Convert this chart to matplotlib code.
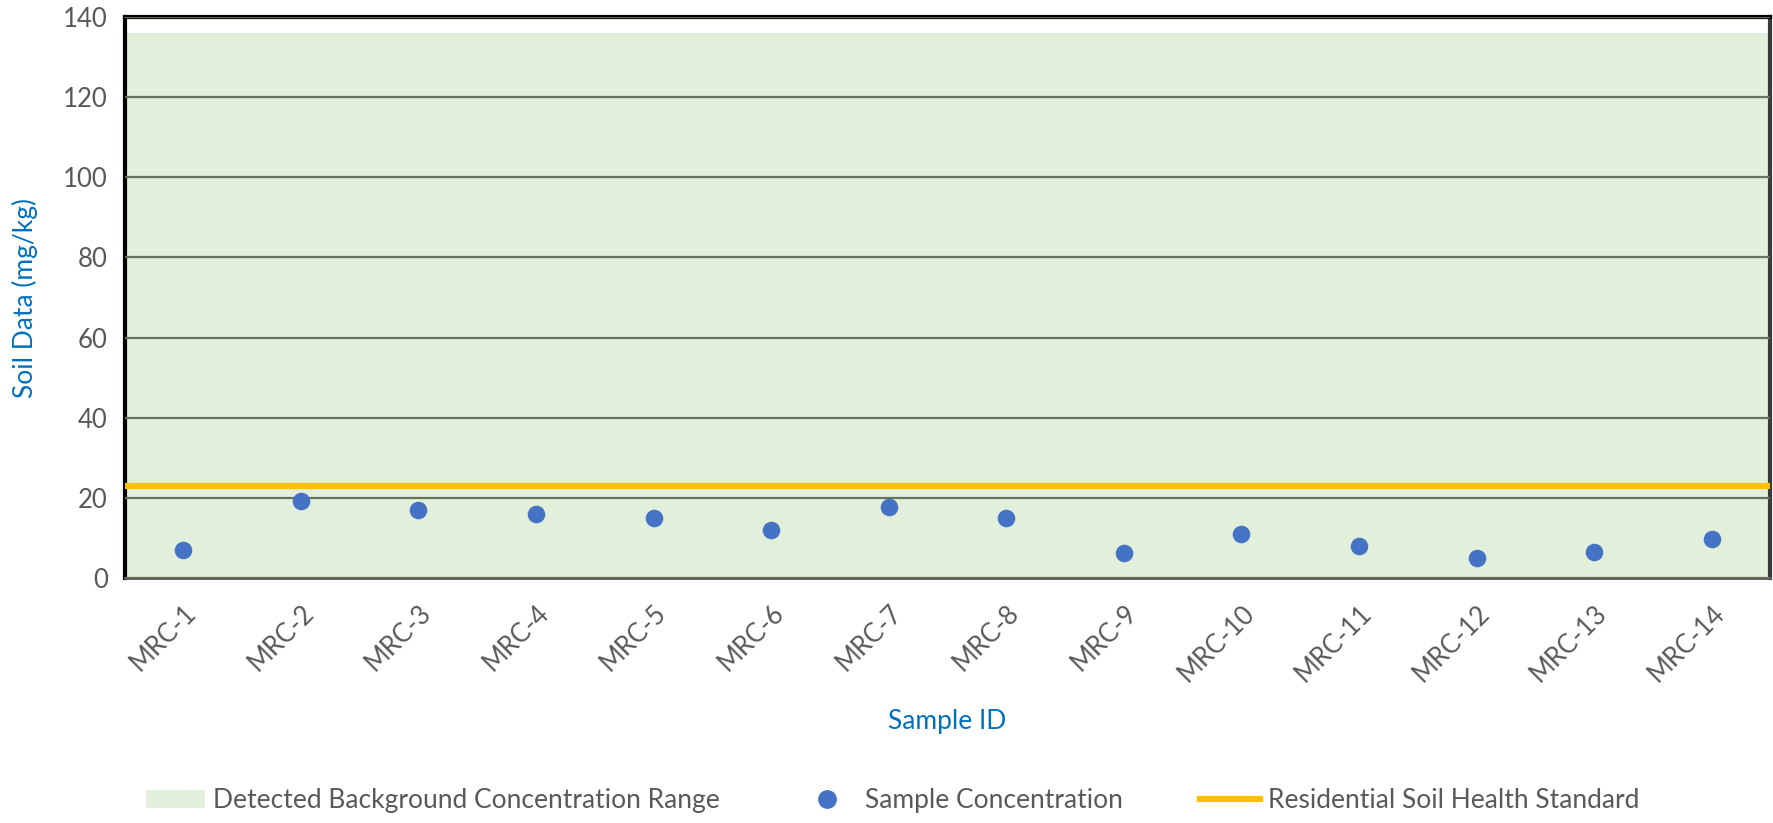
import matplotlib
matplotlib.use("Agg")
import matplotlib.pyplot as plt
from matplotlib.patches import Patch
from matplotlib.lines import Line2D

samples = ["MRC-1", "MRC-2", "MRC-3", "MRC-4", "MRC-5", "MRC-6", "MRC-7",
           "MRC-8", "MRC-9", "MRC-10", "MRC-11", "MRC-12", "MRC-13", "MRC-14"]
concentration = [7.0, 19.1, 16.9, 15.9, 14.9, 11.9, 17.8, 14.9, 6.2, 11.0, 7.9, 5.0, 6.4, 9.8]
background_low = 0.0
background_high = 136.0
standard = 23.0
yticks = [0, 20, 40, 60, 80, 100, 120, 140]

plt.rcParams['font.family'] = ['Lato', 'DejaVu Sans']

fig = plt.figure(figsize=(17.74, 8.23), dpi=100)
ax = fig.add_axes([0.0702, 0.2977, 0.9278, 0.6816])

x = list(range(len(samples)))
ax.set_xlim(-0.5, len(samples) - 0.5)
ax.set_ylim(0, 140)

ax.fill_between([-0.5, len(samples) - 0.5], background_low, background_high,
                color='#E2EFDA', zorder=1, linewidth=0)
ax.axhline(standard, color='#FFC000', lw=4.5, zorder=4)
ax.scatter(x, concentration, s=160, color='#4472C4', zorder=5, linewidths=0)

ax.set_axisbelow(False)
ax.yaxis.grid(True, color='#64735A', lw=1.6, zorder=2)
ax.set_yticks(yticks)
ax.set_xticks(x)
ax.set_xticklabels(samples, rotation=45, ha='right', rotation_mode='anchor')
ax.tick_params(axis='both', length=0, labelsize=18.5, colors='#595959')
ax.tick_params(axis='x', pad=16)
ax.tick_params(axis='y', pad=12)

for side, col, lw in [('left', 'black', 3), ('top', 'black', 3),
                      ('right', '#3A3A3A', 3), ('bottom', '#595959', 2)]:
    ax.spines[side].set_color(col)
    ax.spines[side].set_linewidth(lw)

ax.set_ylabel('Soil Data (mg/kg)', color='#0070C0', fontsize=19, labelpad=18)
ax.set_xlabel('Sample ID', color='#0070C0', fontsize=19, labelpad=16)

handles = [Patch(facecolor='#E2EFDA', edgecolor='none'),
           Line2D([], [], marker='o', ls='none', color='#4472C4', markersize=12.5),
           Line2D([], [], color='#FFC000', lw=4.5)]
labels = ['Detected Background Concentration Range', 'Sample Concentration',
          'Residential Soil Health Standard']
fig.legend(handles, labels, loc='center', bbox_to_anchor=(0.503, 0.027), ncol=3,
           frameon=False, fontsize=19, labelcolor='#595959', columnspacing=2.95,
           handlelength=2.25, handletextpad=0.3)

fig.savefig('out.png', dpi=100)
